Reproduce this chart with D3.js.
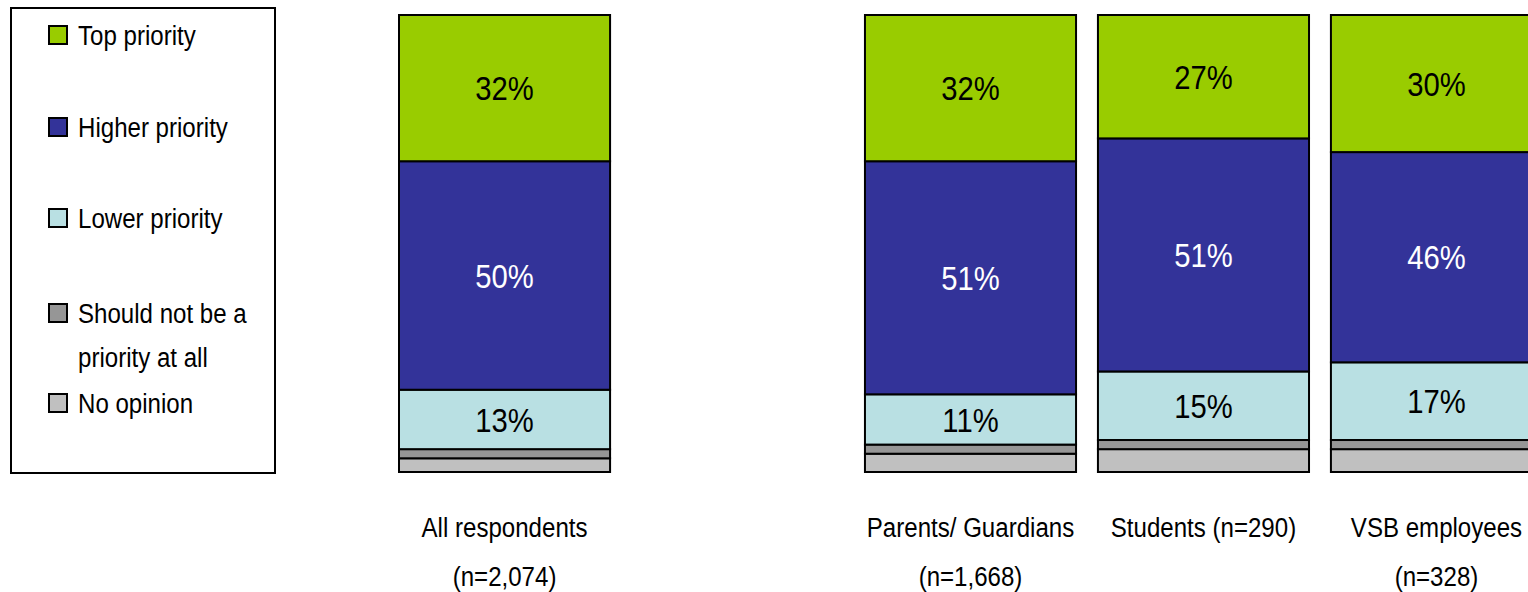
<!DOCTYPE html>
<html>
<head>
<meta charset="utf-8">
<script src="https://cdn.jsdelivr.net/npm/d3@7"></script>
<style>
  body { margin: 0; background: #fff; }
  svg text { font-family: "Liberation Sans Narrow", "Arial Narrow", "Liberation Sans", Arial, sans-serif; }
</style>
</head>
<body>
<div id="chart"></div>
<script>
// size of the picture
var width = 1528,
    height = 592;
// narrow look of the original font
var squeeze = 0.86;

// groups (the empty one is the gap after "All respondents")
var groups = ["all", "gap", "parents", "students", "vsb"];
var labelLine1 = ["All respondents", "", "Parents/ Guardians", "Students (n=290)", "VSB employees"];
var labelLine2 = ["(n=2,074)", "", "(n=1,668)", "", "(n=328)"];

// series, bottom to top of the stack
var seriesNames = ["No opinion", "Should not be a priority at all", "Lower priority", "Higher priority", "Top priority"];
var noOpinionVals  = [3, 0, 4, 5, 5];
var shouldNotVals  = [2, 0, 2, 2, 2];
var lowerVals      = [13, 0, 11, 15, 17];
var higherVals     = [50, 0, 51, 51, 46];
var topVals        = [32, 0, 32, 27, 30];
var colors = ["#c0c0c0", "#969696", "#b9e0e3", "#333399", "#99cc00"];
var labelColors = ["#000", "#000", "#000", "#fff", "#000"];

// legend lines, top to bottom
var legendItems = [
  {name: "Top priority", lines: ["Top priority"]},
  {name: "Higher priority", lines: ["Higher priority"]},
  {name: "Lower priority", lines: ["Lower priority"]},
  {name: "Should not be a priority at all", lines: ["Should not be a", "priority at all"]},
  {name: "No opinion", lines: ["No opinion"]}
];

var table = groups.map(function(g, i) {
  return {
    group: g,
    "No opinion": noOpinionVals[i],
    "Should not be a priority at all": shouldNotVals[i],
    "Lower priority": lowerVals[i],
    "Higher priority": higherVals[i],
    "Top priority": topVals[i]
  };
}).filter(function(d) { return d.group != "gap"; });

var x = d3.scaleBand()
    .domain(groups)
    .range([399, 1542])
    .paddingInner(0.094)
    .paddingOuter(0);

var y = d3.scaleLinear()
    .domain([0, 100])
    .range([472, 15]);

var svg = d3.select("#chart")
  .append("svg")
    .attr("width", width)
    .attr("height", height);

// put a squeezed text at (tx, ty)
function addText(parent, tx, ty, str, size, anchor, color) {
  var g = parent.append("g")
      .attr("transform", "translate(" + tx + "," + ty + ") scale(" + squeeze + ",1)");
  g.append("text")
      .attr("dy", "0.36em")
      .attr("text-anchor", anchor)
      .attr("font-size", size)
      .attr("fill", color || "#000")
      .text(str);
}

var stacked = d3.stack().keys(seriesNames)(table);

var layer = svg.selectAll(".layer")
  .data(stacked)
  .enter().append("g")
    .attr("class", "layer")
    .attr("fill", function(d, i) { return colors[i]; });

layer.selectAll("rect")
  .data(function(d) { return d; })
  .enter().append("rect")
    .attr("x", function(d) { return x(d.data.group); })
    .attr("y", function(d) { return y(d[1]); })
    .attr("width", x.bandwidth())
    .attr("height", function(d) { return y(d[0]) - y(d[1]); })
    .attr("stroke", "#000")
    .attr("stroke-width", 2);

// percent labels on the three big segments
var pct = svg.append("g");
stacked.forEach(function(s, si) {
  if (si < 2) return;
  s.forEach(function(d) {
    addText(pct, x(d.data.group) + x.bandwidth() / 2, (y(d[0]) + y(d[1])) / 2,
      (d[1] - d[0]) + "%", 34, "middle", labelColors[si]);
  });
});

// category labels under the bars
var cats = svg.append("g");
groups.forEach(function(g, i) {
  var cx = x(g) + x.bandwidth() / 2;
  if (labelLine1[i]) addText(cats, cx, 527, labelLine1[i], 28, "middle");
  if (labelLine2[i]) addText(cats, cx, 576, labelLine2[i], 28, "middle");
});

// legend
var legend = svg.append("g");
legend.append("rect")
    .attr("x", 11)
    .attr("y", 8)
    .attr("width", 264)
    .attr("height", 465)
    .attr("fill", "none")
    .attr("stroke", "#000")
    .attr("stroke-width", 2);

var legendY = [35, 127, 218, 313, 403];
legendItems.forEach(function(item, i) {
  var ci = seriesNames.indexOf(item.name);
  legend.append("rect")
      .attr("x", 49)
      .attr("y", legendY[i] - 9)
      .attr("width", 18)
      .attr("height", 18)
      .attr("fill", colors[ci])
      .attr("stroke", "#000")
      .attr("stroke-width", 2);
  item.lines.forEach(function(line, j) {
    addText(legend, 78, legendY[i] + j * 44, line, 28, "start");
  });
});
</script>
</body>
</html>
